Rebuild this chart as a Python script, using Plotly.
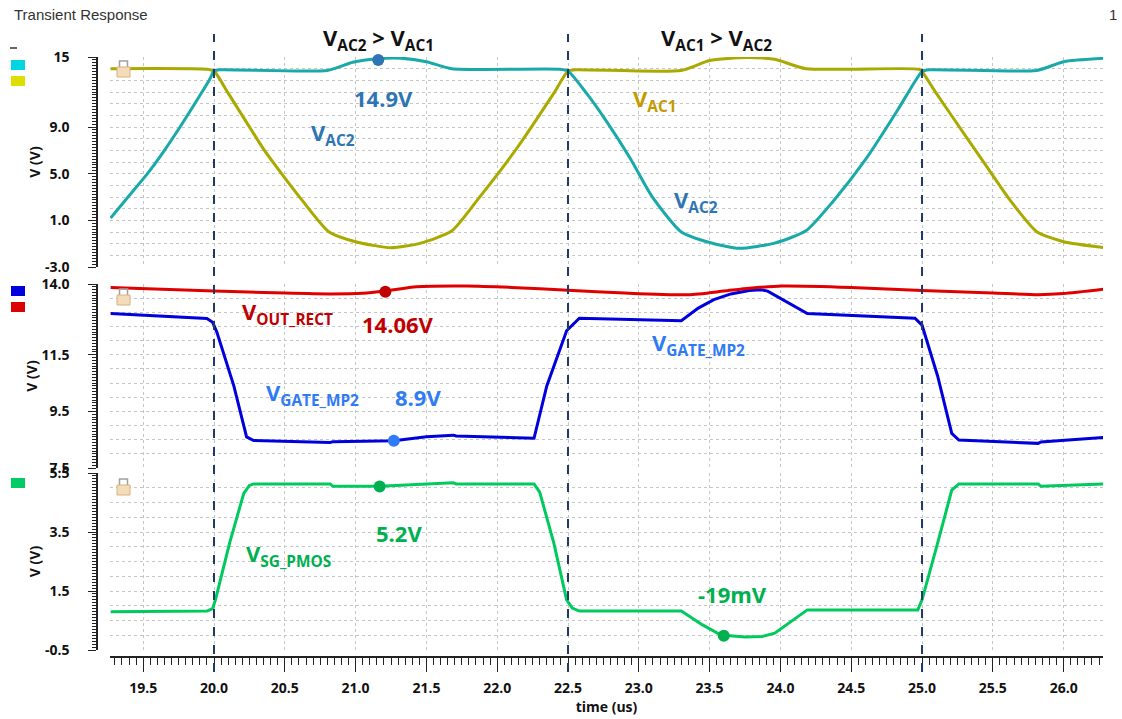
import plotly.graph_objects as go

W, H = 1122, 719

# ---------------- data ----------------
# Top panel: V_AC2 (teal) and V_AC1 (olive)
vac2_t = [19.27, 19.40, 19.53, 19.65, 19.76, 19.90, 19.97, 20.00, 20.04, 20.80, 20.98, 21.15,
          21.32, 21.50, 21.68, 22.44, 22.50, 22.63, 22.76, 22.94, 23.09, 23.30, 23.50, 23.71,
          23.96, 24.18, 24.37, 24.60, 24.83, 24.95, 25.00, 25.05, 25.81, 26.00, 26.29]
vac2_v = [1.2, 3.1, 5.0, 7.0, 9.0, 11.7, 13.1, 13.8, 13.9, 13.85, 14.55, 14.85,
          14.9, 14.6, 14.0, 13.95, 13.8, 11.9, 9.7, 6.3, 3.1, 0.0, -0.9, -1.4,
          -0.95, 0.1, 2.6, 6.2, 10.5, 12.9, 13.75, 13.9, 13.85, 14.6, 14.9]

vac1_t = [19.27, 19.95, 20.00, 20.10, 20.23, 20.35, 20.44, 20.62, 20.81, 21.00, 21.25, 21.46,
          21.68, 21.87, 22.14, 22.40, 22.50, 22.55, 23.30, 23.50, 23.76, 23.96, 24.18, 24.98,
          25.00, 25.10, 25.23, 25.44, 25.62, 25.81, 26.00, 26.29]
vac1_v = [14.0, 13.95, 13.8, 11.9, 9.4, 7.1, 5.6, 2.75, 0.03, -0.83, -1.35, -0.95,
          0.1, 2.9, 7.2, 11.9, 13.8, 13.9, 13.85, 14.7, 14.95, 14.8, 14.0, 13.95,
          13.75, 11.9, 9.6, 5.9, 2.75, 0.03, -0.83, -1.34]

# Middle panel: V_OUT_RECT (red) and V_GATE_MP2 (blue)
vout_t = [19.27, 20.00, 20.50, 20.82, 21.05, 21.21, 21.43, 21.78, 22.10, 22.50, 22.90,
          23.35, 23.60, 23.78, 24.01, 24.50, 25.00, 25.50, 25.82, 26.00, 26.29]
vout_v = [13.88, 13.75, 13.68, 13.65, 13.67, 13.75, 13.90, 13.93, 13.88, 13.78, 13.68,
          13.62, 13.75, 13.85, 13.93, 13.88, 13.77, 13.68, 13.62, 13.66, 13.82]

vgate_t = [19.27, 19.95, 19.99, 20.02, 20.14, 20.23, 20.28, 20.82, 20.84, 21.27, 21.50,
           21.69, 21.71, 22.26, 22.35, 22.49, 22.58, 23.30, 23.42, 23.53, 23.65, 23.78,
           23.86, 23.91, 24.19, 24.95, 25.00, 25.11, 25.21, 25.26, 25.82, 25.84, 26.29]
vgate_v = [12.96, 12.78, 12.65, 12.30, 10.40, 8.60, 8.47, 8.40, 8.43, 8.46, 8.60,
           8.66, 8.63, 8.55, 10.40, 12.35, 12.79, 12.70, 13.15, 13.45, 13.65, 13.77,
           13.80, 13.75, 12.96, 12.79, 12.55, 10.75, 8.72, 8.49, 8.37, 8.42, 8.58]

# Bottom panel: V_SG_PMOS (green)
vsg_t = [19.27, 19.95, 19.99, 20.01, 20.11, 20.21, 20.25, 20.28, 20.82, 20.84, 21.17,
         21.69, 21.71, 22.26, 22.30, 22.40, 22.49, 22.53, 22.58, 23.30, 23.45, 23.58,
         23.75, 23.87, 23.96, 24.19, 24.97, 25.00, 25.11, 25.21, 25.26, 25.82, 25.84, 26.29]
vsg_v = [0.80, 0.82, 0.90, 1.20, 3.12, 4.81, 5.08, 5.13, 5.13, 5.05, 5.05,
         5.17, 5.13, 5.13, 4.85, 3.12, 1.20, 0.92, 0.82, 0.82, 0.35, 0.01,
         -0.06, -0.04, 0.07, 0.86, 0.86, 1.20, 3.12, 4.92, 5.13, 5.13, 5.05, 5.13]

# measurement markers
vac2_mark_t, vac2_mark_v = [21.16], [14.75]
vout_mark_t, vout_mark_v = [21.21], [13.73]
vgate_mark_t, vgate_mark_v = [21.27], [8.46]
vsg_mark_t, vsg_mark_v = [21.17, 23.60], [5.04, -0.015]

# phase boundaries (dashed)
boundary_t = [20.0, 22.5, 25.0]

# axis ranges and ticks
x_range = [19.2655, 26.278]
top_range = [-3.0, 15.0]
top_tick_vals = [-3, 1, 5, 9, 15]
top_tick_text = ["-3.0", "1.0", "5.0", "9.0", "15"]
mid_range = [7.5, 14.0]
mid_tick_vals = [7.5, 9.5, 11.5, 14.0]
mid_tick_text = ["7.5", "9.5", "11.5", "14.0"]
bot_range = [-0.5, 5.5]
bot_tick_vals = [-0.5, 1.5, 3.5, 5.5]
bot_tick_text = ["-0.5", "1.5", "3.5", "5.5"]

# ---------------- styling helpers ----------------
def px(x):
    return x / W

def py(y):
    return 1 - y / H

C_TEAL = "#19a9a9"
C_OLIVE = "#a9a900"
C_RED = "#e00000"
C_BLUE = "#0000dd"
C_GREEN = "#00c95e"
GRID = "#c6c6c6"
AX = "#222222"
TICKFONT = dict(family="Open Sans", size=14, color="#111111", weight="bold")

fig = go.Figure()

def line(t, v, color, xa, ya, width=3, smooth=False):
    ln = dict(color=color, width=width)
    if smooth:
        ln.update(shape="spline", smoothing=0.6)
    fig.add_trace(go.Scatter(x=t, y=v, mode="lines", line=ln,
                             xaxis=xa, yaxis=ya, showlegend=False, hoverinfo="skip"))

def marks(t, v, color, xa, ya):
    fig.add_trace(go.Scatter(x=t, y=v, mode="markers", marker=dict(color=color, size=12),
                             xaxis=xa, yaxis=ya, showlegend=False, hoverinfo="skip",
                             cliponaxis=False))

line(vac1_t, vac1_v, C_OLIVE, "x", "y", smooth=True)
line(vac2_t, vac2_v, C_TEAL, "x", "y", smooth=True)
marks(vac2_mark_t, vac2_mark_v, "#2e75b6", "x", "y")

line(vgate_t, vgate_v, C_BLUE, "x2", "y2")
line(vout_t, vout_v, C_RED, "x2", "y2", smooth=True)
marks(vout_mark_t, vout_mark_v, "#c00000", "x2", "y2")
marks(vgate_mark_t, vgate_mark_v, "#2f7bf5", "x2", "y2")

line(vsg_t, vsg_v, C_GREEN, "x3", "y3")
marks(vsg_mark_t, vsg_mark_v, "#00b050", "x3", "y3")

# empty traces that hold the labelled (overlay) y axes
for xa, ya in (("x", "y4"), ("x2", "y5"), ("x3", "y6")):
    fig.add_trace(go.Scatter(x=[], y=[], mode="lines", xaxis=xa, yaxis=ya,
                             showlegend=False, hoverinfo="skip"))

x_dom = [px(110), px(1103)]

def xgrid_axis(anchor):
    return dict(domain=x_dom, range=x_range, anchor=anchor, tickmode="linear", tick0=19.5,
                dtick=0.5, showgrid=True, gridcolor=GRID, griddash="dot", gridwidth=1,
                showticklabels=False, ticks="", showline=False, zeroline=False, fixedrange=True)

def ygrid_axis(top_px, bot_px, rng, anchor, dtick):
    return dict(domain=[py(bot_px), py(top_px)], range=rng, anchor=anchor,
                tickmode="linear", tick0=rng[0], dtick=dtick,
                showgrid=True, gridcolor=GRID, griddash="dot", gridwidth=1,
                showticklabels=False, ticks="", showline=False, zeroline=False,
                fixedrange=True)

def ylabel_axis(base, rng, vals, texts, minor_dtick):
    return dict(overlaying=base, range=rng, anchor="free", position=px(97), side="left",
                tickmode="array", tickvals=vals, ticktext=texts,
                ticks="outside", ticklen=8, tickwidth=1, tickcolor=AX,
                showline=True, linecolor=AX, linewidth=1.5,
                showgrid=False, zeroline=False,
                tickfont=TICKFONT, ticklabelstandoff=16,
                title=dict(text="V (V)", font=dict(family="Open Sans", size=14, color="#111111",
                                                   weight="bold"), standoff=0),
                minor=dict(tickmode="linear", tick0=rng[0], dtick=minor_dtick, ticklen=4,
                           ticks="outside", tickcolor=AX, showgrid=False),
                fixedrange=True)

fig.update_layout(
    width=W, height=H, autosize=False,
    margin=dict(l=0, r=0, t=0, b=0, pad=0, autoexpand=False),
    paper_bgcolor="white", plot_bgcolor="white",
    showlegend=False,
    xaxis=xgrid_axis("y"),
    xaxis2=xgrid_axis("y2"),
    xaxis3=dict(domain=x_dom, range=x_range, anchor="free", position=py(657),
                tickmode="linear", tick0=19.5, dtick=0.5, tickformat=".1f",
                showgrid=True, gridcolor=GRID, griddash="dot", gridwidth=1,
                ticks="outside", ticklen=14, tickwidth=1, tickcolor=AX,
                showline=True, linecolor=AX, linewidth=1.5, zeroline=False,
                tickfont=TICKFONT, ticklabelstandoff=4,
                minor=dict(tickmode="linear", tick0=19.5, dtick=0.05, ticklen=7,
                           ticks="outside", tickcolor=AX, showgrid=False),
                title=dict(text="time (us)", font=dict(family="Open Sans", size=14,
                                                       color="#111111", weight="bold"),
                           standoff=2),
                fixedrange=True),
    yaxis=ygrid_axis(57, 267, top_range, "x", 1.0),
    yaxis2=ygrid_axis(284, 468, mid_range, "x2", 0.5),
    yaxis3=ygrid_axis(473, 650, bot_range, "x3", 0.5),
    yaxis4=ylabel_axis("y", top_range, top_tick_vals, top_tick_text, 0.25),
    yaxis5=ylabel_axis("y2", mid_range, mid_tick_vals, mid_tick_text, 0.1),
    yaxis6=ylabel_axis("y3", bot_range, bot_tick_vals, bot_tick_text, 0.1),
)

shapes = []
# dashed phase boundaries
for t in boundary_t:
    shapes.append(dict(type="line", xref="x", yref="paper", x0=t, x1=t, y0=py(672), y1=py(34),
                       line=dict(color="#1f3864", width=2, dash="dash"), layer="above"))

# legend swatches
def swatch(y0, color):
    shapes.append(dict(type="rect", xref="paper", yref="paper", x0=px(11), x1=px(25),
                       y0=py(y0 + 10), y1=py(y0), fillcolor=color, line=dict(width=0)))

shapes.append(dict(type="line", xref="paper", yref="paper", x0=px(10), x1=px(17),
                   y0=py(48), y1=py(48), line=dict(color="#333333", width=1.5)))
swatch(60, "#00d5e0")
swatch(76, "#dede00")
swatch(286, "#0000dd")
swatch(302, "#dd0000")
swatch(478, "#00cc66")

# lock icons
def lock(ytop):
    shapes.append(dict(type="rect", xref="paper", yref="paper", x0=px(119.5), x1=px(127.5),
                       y0=py(ytop + 8), y1=py(ytop), line=dict(color="#a0a0a0", width=1.5),
                       fillcolor="rgba(0,0,0,0)"))
    shapes.append(dict(type="rect", xref="paper", yref="paper", x0=px(117), x1=px(130),
                       y0=py(ytop + 16), y1=py(ytop + 6), line=dict(color="#d8b080", width=1),
                       fillcolor="#f4dcb8"))

lock(61)
lock(289)
lock(479)

fig.update_layout(shapes=shapes)

ann = []

def label(text, x, y, color, size=22, xanchor="center"):
    ann.append(dict(text=text, x=px(x), y=py(y), xref="paper", yref="paper", showarrow=False,
                    xanchor=xanchor, yanchor="middle",
                    font=dict(family="Open Sans", size=size, color=color, weight="bold")))

label("V<sub>AC2</sub> > V<sub>AC1</sub>", 378, 39, "#111111")
label("V<sub>AC1</sub> > V<sub>AC2</sub>", 716, 39, "#111111")
label("14.9V", 383, 98, "#2e75b6")
label("V<sub>AC2</sub>", 333, 134, "#2e75b6")
label("V<sub>AC1</sub>", 655, 100, "#c49a00")
label("V<sub>AC2</sub>", 696, 201, "#2e75b6")
label("V<sub>OUT_RECT</sub>", 287, 313, "#c00000")
label("14.06V", 398, 324, "#c00000")
label("V<sub>GATE_MP2</sub>", 312, 394, "#2f7bf5")
label("8.9V", 418, 397, "#2f7bf5")
label("V<sub>GATE_MP2</sub>", 698, 344, "#2f7bf5")
label("V<sub>SG_PMOS</sub>", 288, 555, "#00b050")
label("5.2V", 399, 533, "#00b050")
label("-19mV", 732, 594, "#00b050")

ann.append(dict(text="Transient Response", x=px(12), y=py(15), xref="paper", yref="paper",
                showarrow=False, xanchor="left", yanchor="middle",
                font=dict(family="Liberation Sans", size=15, color="#333333")))
ann.append(dict(text="1", x=px(1119), y=py(15), xref="paper", yref="paper",
                showarrow=False, xanchor="right", yanchor="middle",
                font=dict(family="Liberation Sans", size=15, color="#333333")))

fig.update_layout(annotations=ann)

fig.write_html("out.html",
               config={"displayModeBar": False},
               post_script="document.body.style.margin='0px';"
                           "document.body.style.overflow='hidden';")
